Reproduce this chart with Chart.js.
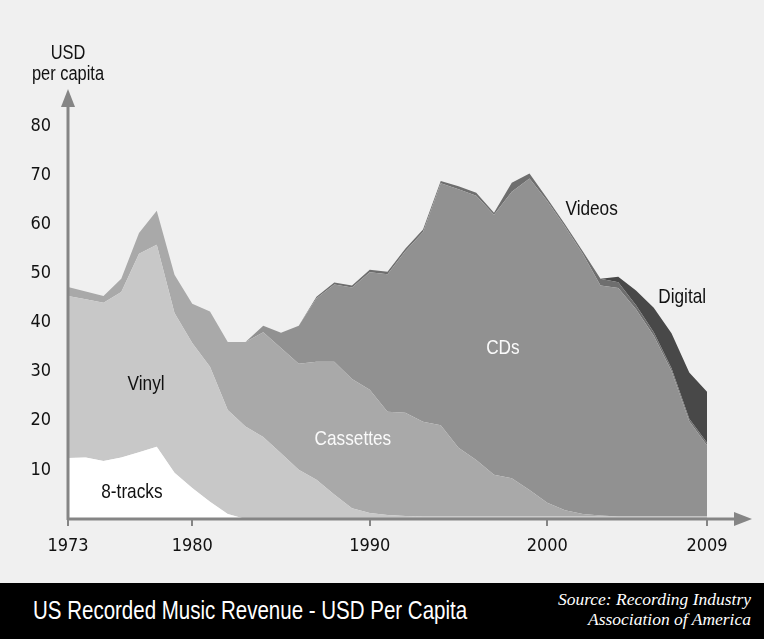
<!DOCTYPE html>
<html>
<head>
<meta charset="utf-8">
<title>US Recorded Music Revenue - USD Per Capita</title>
<script src="https://cdn.jsdelivr.net/npm/chart.js@4.4.1/dist/chart.umd.min.js"></script>
<style>
  body { margin: 0; background: #f0f0f0; }
  #wrap { position: relative; width: 764px; height: 639px; overflow: hidden; }
  #chart { display: block; }
  #footer { position: absolute; left: 0; top: 583px; width: 764px; height: 56px; background: #000; color: #fff; }
  #title { position: absolute; left: 33px; top: 15px; font: 25px/25px 'Liberation Sans', Arial, sans-serif; white-space: nowrap;
           transform: scaleX(0.82); transform-origin: 0 0; }
  #source { position: absolute; right: 13px; top: 6px; font: italic 17.5px/20px 'Liberation Serif', serif; text-align: right; white-space: nowrap; }
</style>
</head>
<body>
<div id="wrap">
  <canvas id="chart" width="764" height="583"></canvas>
  <div id="footer">
    <div id="title">US Recorded Music Revenue - USD Per Capita</div>
    <div id="source">Source: Recording Industry<br>Association of America</div>
  </div>
</div>
<script>
const years = [1973,1974,1975,1976,1977,1978,1979,1980,1981,1982,1983,1984,1985,1986,1987,1988,1989,1990,1991,1992,
  1993,1994,1995,1996,1997,1998,1999,2000,2001,2002,2003,2004,2005,2006,2007,2008,2009];

// USD per capita by format, stacked bottom to top
const eightTracks = [12.4,12.5,11.8,12.5,13.6,14.7,9.4,6.3,3.5,1.0,0,0,0,0,0,0,0,0,0,0,
  0,0,0,0,0,0,0,0,0,0,0,0,0,0,0,0,0];
const vinyl = [33.0,32.2,32.2,33.7,40.4,41.1,32.5,29.5,27.5,21.2,18.8,16.7,13.4,10.0,8.0,5.0,2.2,1.2,0.8,0.6,
  0.5,0.5,0.5,0.5,0.5,0.5,0.5,0.5,0.5,0.5,0.5,0.5,0.5,0.5,0.5,0.5,0.5];
const cassettes = [1.8,1.6,1.4,2.7,4.2,6.9,7.8,8.0,11.2,13.8,17.2,21.3,21.4,21.6,24.0,27.0,26.3,25.1,21.0,21.0,
  19.3,18.6,14.0,11.5,8.5,7.8,5.4,2.8,1.3,0.5,0.2,0,0,0,0,0,0];
const cds = [0,0,0,0,0,0,0,0,0,0,0,1.3,3.1,7.7,12.9,15.7,18.6,23.9,28.0,32.9,
  38.6,49.2,52.6,53.8,52.9,58.3,63.4,61.4,57.7,53.0,46.8,46.5,42.2,36.8,29.6,19.4,14.5];
const videos = [0,0,0,0,0,0,0,0,0,0,0,0,0,0,0.3,0.4,0.4,0.5,0.5,0.5,
  0.5,0.5,0.6,0.6,0.4,1.8,1.0,0.5,0.5,0.5,1.4,1.2,0.8,0.7,0.6,0.5,0.5];
const digital = [0,0,0,0,0,0,0,0,0,0,0,0,0,0,0,0,0,0,0,0,
  0,0,0,0,0,0,0,0,0,0,0,1.1,3.0,5.0,7.1,9.4,10.4];

const xTicks = [1973, 1980, 1990, 2000, 2009];
const yTicks = [10, 20, 30, 40, 50, 60, 70, 80];

const tickFont = "'DejaVu Sans Condensed', sans-serif";
const labelFont = "'Liberation Sans', Arial, sans-serif";
const axisGray = '#858585';

// text placed inside the areas, in data units (year, USD)
const areaLabels = [
  { text: '8-tracks', year: 1976.6, value: 4.3, color: '#111' },
  { text: 'Vinyl', year: 1977.4, value: 26.3, color: '#111' },
  { text: 'Cassettes', year: 1989.05, value: 15.1, color: '#fafafa' },
  { text: 'CDs', year: 1997.5, value: 33.6, color: '#fafafa' },
  { text: 'Videos', year: 2002.5, value: 61.9, color: '#111' },
  { text: 'Digital', year: 2007.6, value: 44.0, color: '#111' }
];

function layer(label, data, color, fill){
  return { label, data, backgroundColor: color, borderColor: color, borderWidth: 0, fill, pointRadius: 0 };
}

// Arial squeezed sideways, close to a narrow grotesque
function narrowText(ctx, text, x, y){
  ctx.save();
  ctx.translate(x, y);
  ctx.scale(0.82, 1);
  ctx.fillText(text, 0, 0);
  ctx.restore();
}

const axesAndLabels = {
  id: 'axesAndLabels',
  afterDatasetsDraw(chart){
    const { ctx, chartArea: a, scales } = chart;
    ctx.save();
    ctx.strokeStyle = axisGray;
    ctx.fillStyle = axisGray;
    ctx.lineWidth = 3;
    // y axis with arrow
    ctx.beginPath();
    ctx.moveTo(a.left, a.bottom + 1);
    ctx.lineTo(a.left, a.top + 16);
    ctx.stroke();
    ctx.beginPath();
    ctx.moveTo(a.left, a.top);
    ctx.lineTo(a.left - 7, a.top + 18);
    ctx.lineTo(a.left + 7, a.top + 18);
    ctx.closePath();
    ctx.fill();
    // x axis with arrow
    ctx.beginPath();
    ctx.moveTo(a.left - 1, a.bottom);
    ctx.lineTo(a.right + 30, a.bottom);
    ctx.stroke();
    ctx.beginPath();
    ctx.moveTo(a.right + 45, a.bottom);
    ctx.lineTo(a.right + 27, a.bottom - 7);
    ctx.lineTo(a.right + 27, a.bottom + 7);
    ctx.closePath();
    ctx.fill();

    ctx.textAlign = 'center';
    ctx.textBaseline = 'alphabetic';

    // axis title
    ctx.fillStyle = '#111';
    ctx.font = '20px ' + labelFont;
    narrowText(ctx, 'USD', a.left, a.top - 30);
    narrowText(ctx, 'per capita', a.left, a.top - 9);

    ctx.font = '21px ' + labelFont;
    areaLabels.forEach(l => {
      ctx.fillStyle = l.color;
      narrowText(ctx, l.text, scales.x.getPixelForValue(l.year), scales.y.getPixelForValue(l.value));
    });
    ctx.restore();
  }
};

new Chart(document.getElementById('chart'), {
  type: 'line',
  data: {
    labels: years,
    datasets: [
      layer('8-tracks', eightTracks, '#ffffff', 'origin'),
      layer('Vinyl', vinyl, '#c8c8c8', '-1'),
      layer('Cassettes', cassettes, '#a9a9a9', '-1'),
      layer('CDs', cds, '#919191', '-1'),
      layer('Videos', videos, '#6e6e6e', '-1'),
      layer('Digital', digital, '#484848', '-1')
    ]
  },
  options: {
    responsive: false,
    animation: false,
    layout: { padding: { left: 10, right: 57, top: 89, bottom: 0 } },
    elements: { line: { tension: 0 } },
    plugins: { legend: { display: false }, tooltip: { enabled: false } },
    scales: {
      x: {
        type: 'linear',
        min: 1973,
        max: 2009,
        afterBuildTicks: s => { s.ticks = xTicks.map(v => ({ value: v })); },
        afterFit: s => { s.height = 64; },
        ticks: {
          autoSkip: false,
          maxRotation: 0,
          padding: 10,
          color: '#111',
          font: { family: tickFont, size: 18 },
          callback: v => String(v)
        },
        grid: { drawOnChartArea: false, drawTicks: true, tickLength: 7, color: axisGray, lineWidth: 2 },
        border: { display: false }
      },
      y: {
        stacked: true,
        min: 0,
        max: 87.5,
        afterBuildTicks: s => { s.ticks = yTicks.map(v => ({ value: v })); },
        afterFit: s => { s.width = 58; },
        ticks: {
          padding: 17,
          color: '#111',
          font: { family: tickFont, size: 18 }
        },
        grid: { display: false, drawTicks: false },
        border: { display: false }
      }
    }
  },
  plugins: [axesAndLabels]
});
</script>
</body>
</html>
